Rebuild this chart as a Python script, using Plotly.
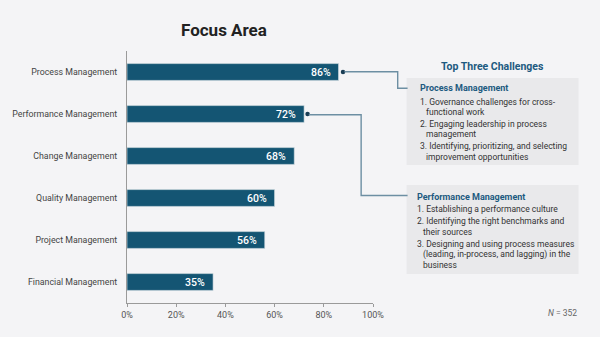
import plotly.graph_objects as go

categories = ["Process Management", "Performance Management", "Change Management",
              "Quality Management", "Project Management", "Financial Management"]
values = [86, 72, 68, 60, 56, 35]
x_ticks = [0, 20, 40, 60, 80, 100]
x_tick_labels = ["0%", "20%", "40%", "60%", "80%", "100%"]

title_text = "Focus Area"
panel_title = "Top Three Challenges"
box1_lines = [("Process Management", "h"),
              ("1. Governance challenges for cross-", "i"),
              ("functional work", "c"),
              ("2. Engaging leadership in process", "i"),
              ("management", "c"),
              ("3. Identifying, prioritizing, and selecting", "i"),
              ("improvement opportunities", "c")]
box2_lines = [("Performance Management", "h"),
              ("1. Establishing a performance culture", "i"),
              ("2. Identifying the right benchmarks and", "i"),
              ("their sources", "c"),
              ("3. Designing and using process measures", "i"),
              ("(leading, in-process, and lagging) in the", "c"),
              ("business", "c")]
note_text = "<i>N</i> = 352"

W, H = 600, 337
L, R, T, B = 124, 373, 51, 303
BG = "#f4f4f6"
BAR = "#145573"
BLUE = "#1d5a80"
LINE = "#6d8fa3"
FONT = "Roboto"

def px(x):
    return (x - L) / (R - L)

def py(y):
    return (B - y) / (B - T)

fig = go.Figure()
fig.add_trace(go.Bar(
    x=values, y=categories, orientation="h",
    marker=dict(color=BAR, line=dict(color="#dfe6ea", width=0.6)),
    width=0.4, hoverinfo="skip"))

# value labels inside bars
annotations = []
for c, v in zip(categories, values):
    annotations.append(dict(x=v, y=c, xref="x", yref="y", text=f"{v}%", showarrow=False,
                            xanchor="right", yanchor="middle", xshift=-6,
                            font=dict(family=FONT, size=10.5, color="white", weight=500)))

# connector dots
fig.add_trace(go.Scatter(x=[values[0] + 1.8, values[1] + 1.4], y=categories[:2], mode="markers",
                         marker=dict(size=4.5, color="#1a3d55"), cliponaxis=False, hoverinfo="skip"))

shapes = []
def path(points):
    d = "M " + " L ".join(f"{px(a):.5f},{py(b):.5f}" for a, b in points)
    return dict(type="path", path=d, xref="paper", yref="paper",
                line=dict(color=LINE, width=1.4), layer="above")

shapes.append(dict(type="rect", xref="paper", yref="paper", x0=px(407), x1=px(581), y0=py(165), y1=py(78),
                   fillcolor="#e9e9eb", line=dict(width=0), layer="below"))
shapes.append(dict(type="rect", xref="paper", yref="paper", x0=px(407), x1=px(581), y0=py(274), y1=py(185),
                   fillcolor="#e9e9eb", line=dict(width=0), layer="below"))
shapes.append(path([(344, 71.7), (398, 71.7), (398, 88.3), (408, 88.3)]))
shapes.append(path([(308, 114.7), (361, 114.7), (361, 195.5), (408, 195.5)]))

def add_text(x, y, text, size, color, weight=400, anchor="left"):
    annotations.append(dict(x=px(x), y=py(y), xref="paper", yref="paper", text=text, showarrow=False,
                            xanchor=anchor, yanchor="middle",
                            font=dict(family=FONT, size=size, color=color, weight=weight)))

add_text(222.6, 30, title_text, 17, "#222222", 700, "center")
add_text(493.7, 66.7, panel_title, 10.5, BLUE, 700, "center")

ys1 = [88.3, 101.7, 111.7, 123.7, 133.7, 146.3, 157]
for (t, k), y in zip(box1_lines, ys1):
    if k == "h":
        add_text(419, y, t, 9, BLUE, 700)
    elif k == "i":
        add_text(419, y, t, 8.5, "#333333")
    else:
        add_text(425, y, t, 8.5, "#333333")

ys2 = [197.3, 209.3, 221, 231.7, 244, 254.3, 265]
for (t, k), y in zip(box2_lines, ys2):
    if k == "h":
        add_text(416, y, t, 9, BLUE, 700)
    elif k == "i":
        add_text(416, y, t, 8.5, "#333333")
    else:
        add_text(422, y, t, 8.5, "#333333")

add_text(582, 313, note_text, 8.5, "#666666", 400, "right")

fig.update_layout(
    width=W, height=H, margin=dict(l=L, r=W - R, t=T, b=H - B),
    paper_bgcolor=BG, plot_bgcolor=BG, showlegend=False,
    bargap=0.6,
    xaxis=dict(range=[0, 100], tickvals=x_ticks, ticktext=x_tick_labels, showgrid=False, zeroline=False,
               showline=True, linecolor="#9a9a9a", linewidth=1.2, ticks="outside", ticklen=3,
               tickcolor="#9a9a9a", tickfont=dict(family=FONT, size=9, color="#555555"), fixedrange=True),
    yaxis=dict(categoryorder="array", categoryarray=categories, autorange="reversed", showgrid=False,
               zeroline=False, showline=True, linecolor="#9a9a9a", linewidth=1.2, ticks="",
               ticklabelstandoff=7,
               tickfont=dict(family=FONT, size=8.8, color="#444444"), fixedrange=True),
    annotations=annotations, shapes=shapes,
)

fig.write_html("out.html")
